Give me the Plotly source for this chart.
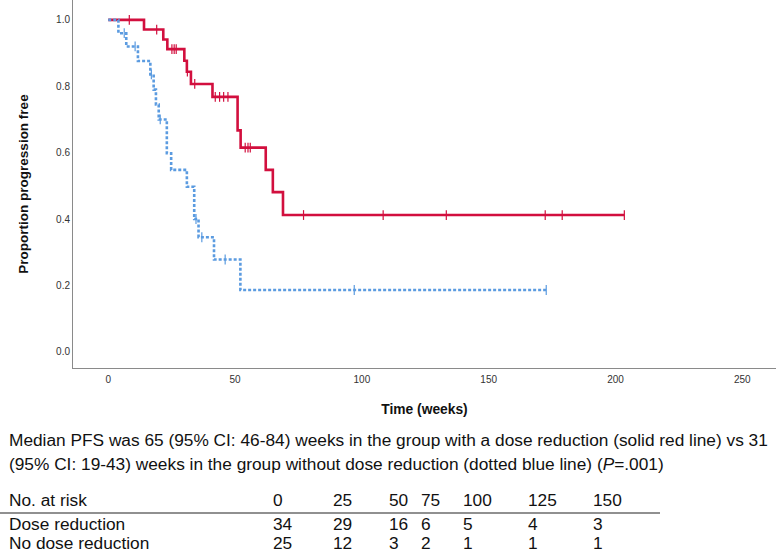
import plotly.graph_objects as go

# ---------------- data ----------------
# Dose reduction group (solid red line): step times (weeks) and survival after each step
red_times = [0, 14.1, 21.7, 23.3, 30.0, 31.0, 32.6, 41.1, 51.0, 52.2, 62.1, 64.9, 68.9, 203.5]
red_surv = [1.0, 0.971, 0.941, 0.912, 0.877, 0.844, 0.807, 0.768, 0.667, 0.615, 0.548, 0.481, 0.412, 0.412]
red_censor_times = [8.3, 19.1, 25.1, 26.0, 26.8, 31.2, 34.1, 42.2, 43.9, 45.5, 47.2,
                    54.0, 55.1, 56.0, 77.0, 108.4, 133.3, 172.3, 179.0, 203.5]

# No dose reduction group (dotted blue line)
blue_times = [0, 4.0, 7.1, 11.7, 16.6, 17.9, 18.8, 19.9, 23.1, 24.8, 31.0, 33.9, 35.6, 41.7, 52.1, 172.7]
blue_surv = [1.0, 0.96, 0.92, 0.876, 0.836, 0.79, 0.745, 0.70, 0.598, 0.548, 0.497, 0.40, 0.345, 0.278, 0.186, 0.186]
blue_censor_times = [6.3, 10.6, 17.0, 20.5, 34.6, 36.9, 46.1, 97.0, 172.7]

x_ticks = [0, 50, 100, 150, 200, 250]
y_ticks = [0.0, 0.2, 0.4, 0.6, 0.8, 1.0]

caption_lines = [
    "Median PFS was 65 (95% CI: 46-84) weeks in the group with a dose reduction (solid red line) vs 31",
    "(95% CI: 19-43) weeks in the group without dose reduction (dotted blue line) (<i>P</i>=.001)",
]
risk_header = "No. at risk"
risk_times = ["0", "25", "50", "75", "100", "125", "150"]
risk_groups = ["Dose reduction", "No dose reduction"]
risk_counts = [
    [34, 29, 16, 6, 5, 4, 3],
    [25, 12, 3, 2, 1, 1, 1],
]

RED = "#D20F3E"
BLUE = "#5B9BE0"


def step_value(times, surv, t):
    v = surv[0]
    for ti, si in zip(times, surv):
        if ti <= t:
            v = si
    return v


fig = go.Figure()

fig.add_trace(go.Scatter(
    x=red_times, y=red_surv, mode="lines", line=dict(shape="hv", color=RED, width=2.6),
    name="Dose reduction", hoverinfo="skip"))
fig.add_trace(go.Scatter(
    x=red_censor_times, y=[step_value(red_times, red_surv, t) for t in red_censor_times],
    mode="markers",
    marker=dict(symbol="line-ns-open", size=7, color=RED, line=dict(color=RED, width=1.2)),
    name="Dose reduction censored", hoverinfo="skip"))

fig.add_trace(go.Scatter(
    x=blue_times, y=blue_surv, mode="lines",
    line=dict(shape="hv", color=BLUE, width=2.6, dash="3px,2px"),
    name="No dose reduction", hoverinfo="skip"))
fig.add_trace(go.Scatter(
    x=blue_censor_times, y=[step_value(blue_times, blue_surv, t) for t in blue_censor_times],
    mode="markers",
    marker=dict(symbol="line-ns-open", size=7, color=BLUE, line=dict(color=BLUE, width=1.2)),
    name="No dose reduction censored", hoverinfo="skip"))

# ---------------- layout ----------------
W_PX, H_PX = 776, 554
ML, MR, MT, MB = 73, 0, 0, 186
PW = W_PX - ML - MR
PH = H_PX - MT - MB


def px_x(px):
    return (px - ML) / PW


def px_y(py):
    return (H_PX - MB - py) / PH


FONT = "Liberation Sans, Arial, sans-serif"
TXT = 17.3


def text_ann(text, px, py):
    return dict(
        text=text, xref="paper", yref="paper", x=px_x(px), y=px_y(py),
        xanchor="left", yanchor="middle", showarrow=False, borderpad=0,
        font=dict(family=FONT, size=TXT, color="#111111"))


annotations = []
for i, line in enumerate(caption_lines):
    annotations.append(text_ann(line, 8, 440 + 24 * i))

col_px = [272, 332, 388, 420, 462, 527, 592]
row_y = [500, 524, 543]
annotations.append(text_ann(risk_header, 8, row_y[0]))
for cx, lab in zip(col_px, risk_times):
    annotations.append(text_ann(lab, cx, row_y[0]))
for r, (g, counts) in enumerate(zip(risk_groups, risk_counts)):
    annotations.append(text_ann(g, 8, row_y[r + 1]))
    for cx, c in zip(col_px, counts):
        annotations.append(text_ann(str(c), cx, row_y[r + 1]))

shapes = [dict(type="line", xref="paper", yref="paper",
               x0=px_x(0), x1=px_x(660), y0=px_y(513), y1=px_y(513),
               line=dict(color="#222222", width=1.2))]

fig.update_layout(
    width=W_PX, height=H_PX,
    margin=dict(l=ML, r=MR, t=MT, b=MB, pad=0),
    paper_bgcolor="white", plot_bgcolor="white",
    showlegend=False,
    font=dict(family=FONT, color="#333333"),
    annotations=annotations, shapes=shapes,
    xaxis=dict(
        range=[-13.9, 263.3], tickvals=x_ticks, ticktext=[str(v) for v in x_ticks],
        showgrid=False, zeroline=False, showline=True, linecolor="#8a8a8a", linewidth=1,
        ticks="", ticklabelstandoff=2, tickfont=dict(size=10, color="#333333"),
        title=dict(text="<b>Time (weeks)</b>", font=dict(size=13.8, color="#111111"), standoff=20),
        automargin=False,
    ),
    yaxis=dict(
        range=[-0.049, 1.06], tickvals=y_ticks, ticktext=[f"{v:.1f}" for v in y_ticks],
        showgrid=False, zeroline=False, showline=True, linecolor="#8a8a8a", linewidth=1,
        ticks="", tickfont=dict(size=10, color="#333333"),
        title=dict(text="<b>Proportion progression free</b>", font=dict(size=13.5, color="#111111"), standoff=24),
        automargin=False,
    ),
)

fig.write_html(
    "out.html",
    config={"displayModeBar": False},
    post_script="document.body.style.margin='0';document.body.style.padding='0';",
)
